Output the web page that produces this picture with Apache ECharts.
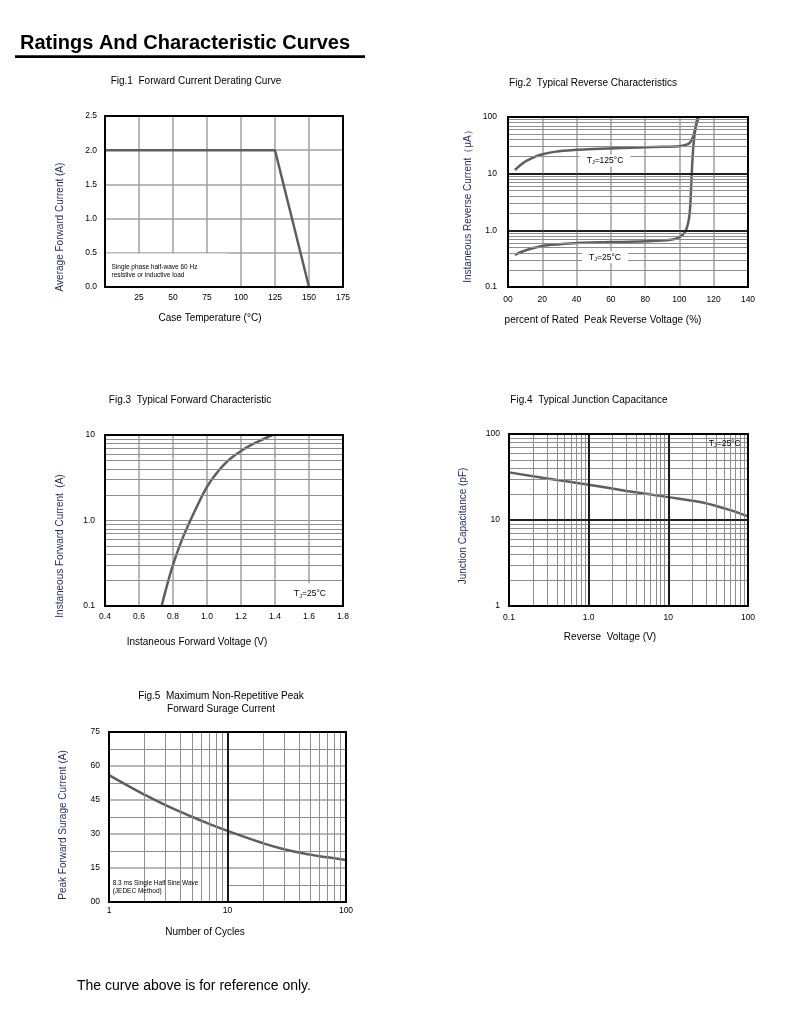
<!DOCTYPE html>
<html>
<head>
<meta charset="utf-8">
<script src="https://cdn.jsdelivr.net/npm/echarts@6/dist/echarts.min.js"></script>
<style>
html, body { margin: 0; padding: 0; background: #fff; }
#main { width: 790px; height: 1012px; }
</style>
</head>
<body>
<div id="main"></div>
<script>
// Fig.1 forward current derating
const fig1Temp = [0, 125, 150];
const fig1Current = [2.0, 2.0, 0.0];

// Fig.2 reverse characteristics
const fig2HotPct = [4, 9, 14, 19, 28, 40, 50, 67, 85, 100, 104, 106, 108, 109.5, 110.5];
const fig2HotCurrent = [11.6, 15.6, 18.8, 21.5, 24.5, 26.3, 27.2, 28.3, 29.5, 30.5, 32.5, 35, 45, 68, 100];
const fig2ColdPct = [4, 10, 20, 30, 40, 60, 80, 95, 100, 103.3, 105.2, 106.2, 107.1, 108.1, 109.5, 111.3];
const fig2ColdCurrent = [0.37, 0.44, 0.53, 0.57, 0.6, 0.62, 0.64, 0.68, 0.76, 0.94, 1.4, 2.4, 9, 30, 66, 100];

// Fig.3 forward characteristic
const fig3Volt = [0.733, 0.77, 0.8, 0.85, 0.9, 0.95, 1.0, 1.05, 1.1, 1.15, 1.2, 1.25, 1.3, 1.385];
const fig3Current = [0.1, 0.19, 0.303, 0.578, 0.98, 1.59, 2.47, 3.44, 4.49, 5.52, 6.49, 7.45, 8.36, 10];

// Fig.4 junction capacitance
const fig4Volt = [0.1, 0.3, 1, 3, 10, 20, 30, 50, 70, 100];
const fig4Cap = [35.8, 30.4, 25.7, 21.8, 18.45, 16.7, 15.6, 13.7, 12.45, 11];

// Fig.5 surge current
const fig5Cycles = [1, 2, 3, 5, 7, 10, 20, 30, 50, 70, 100];
const fig5Surge = [56, 47.3, 42.7, 37.6, 34.5, 31.4, 25.9, 23.3, 20.9, 19.7, 18.5];

const FONT = '"Liberation Sans", Arial, sans-serif';
const NAVY = '#1e2a5e';
const GRAY = '#a0a0a0';
const MINOR = '#8e8e8e';
const MAJOR = '#111';
const CURVE = '#5e5e5e';

const zip = (xs, ys) => xs.map((x, i) => [x, ys[i]]);

// 2..9 steps of every decade inside [lo, hi]
function decadeSteps(lo, hi) {
    const out = [];
    for (let d = lo; d < hi; d *= 10) {
        for (let k = 2; k <= 9; k++) out.push(+(k * d).toPrecision(3));
    }
    return out;
}

const logLabel = v => v < 0.5 ? '0.1' : (v < 5 ? '1.0' : String(Math.round(v)));

function axis(gi, type, min, max, extra) {
    const a = {
        gridIndex: gi,
        type: type,
        min: min,
        max: max,
        axisLine: { show: false },
        axisTick: { show: false },
        axisLabel: { fontSize: 8.5, color: '#000', fontFamily: FONT, margin: 7 },
        splitLine: { show: true, lineStyle: { color: GRAY, width: 1.5 } }
    };
    if (type === 'log') a.logBase = 10;
    return Object.assign(a, extra || {});
}

// minor lines first, then black decade lines on top of them
function gridLines(gi, xs, ys, majorXs, majorYs) {
    const major = { color: MAJOR, width: 1.6, type: 'solid' };
    const items = xs.map(v => ({ xAxis: v }))
        .concat(ys.map(v => ({ yAxis: v })))
        .concat((majorXs || []).map(v => ({ xAxis: v, lineStyle: major })))
        .concat((majorYs || []).map(v => ({ yAxis: v, lineStyle: major })));
    return {
        type: 'line', xAxisIndex: gi, yAxisIndex: gi, data: [], z: 1, silent: true,
        markLine: {
            silent: true, symbol: ['none', 'none'], label: { show: false },
            lineStyle: { color: MINOR, width: 1, type: 'solid' },
            emphasis: { disabled: true },
            data: items
        }
    };
}

function whiteBox(gi, from, to) {
    return {
        type: 'line', xAxisIndex: gi, yAxisIndex: gi, data: [], z: 2, silent: true,
        markArea: {
            silent: true, itemStyle: { color: '#fff' }, label: { show: false },
            data: [[{ coord: from }, { coord: to }]]
        }
    };
}

function curve(gi, data, smooth) {
    return {
        type: 'line', xAxisIndex: gi, yAxisIndex: gi, data: data, z: 3,
        showSymbol: false, smooth: smooth,
        lineStyle: { color: CURVE, width: 2.5 }, silent: true
    };
}

const tjRich = {
    t: { fontSize: 8.5, fontFamily: FONT, color: '#000' },
    s: { fontSize: 5.5, fontFamily: FONT, color: '#000', padding: [4, 0, 0, 0] }
};

function note(gi, points) {
    return {
        type: 'line', xAxisIndex: gi, yAxisIndex: gi, data: [], z: 4, silent: true,
        markPoint: {
            silent: true, symbol: 'rect', symbolSize: 1,
            itemStyle: { color: 'rgba(0,0,0,0)' },
            data: points
        }
    };
}

function tjPoint(coord, temp, bg) {
    return {
        coord: coord,
        label: {
            show: true, position: 'inside',
            formatter: '{t|T}{s|J}{t|=' + temp + '°C}',
            rich: tjRich,
            backgroundColor: bg ? '#fff' : 'transparent',
            padding: [1, 7]
        }
    };
}

function textPoint(coord, text, size) {
    return {
        coord: coord,
        label: {
            show: true, position: 'right', distance: 0,
            formatter: text, fontSize: size, fontFamily: FONT, color: '#000',
            lineHeight: size + 1.5, align: 'left'
        }
    };
}

function txt(x, y, text, size, opts) {
    return Object.assign({
        type: 'text', x: x, y: y,
        style: {
            text: text, font: (opts && opts.bold ? 'bold ' : '') + size + 'px ' + FONT,
            fill: (opts && opts.fill) || '#000', align: (opts && opts.align) || 'center', verticalAlign: 'middle'
        }
    }, opts && opts.rotate ? { rotation: Math.PI / 2 } : {});
}

const gridBase = { show: true, borderColor: '#000', borderWidth: 2, z: 10, backgroundColor: 'transparent' };

const chart = echarts.init(document.getElementById('main'));

chart.setOption({
    backgroundColor: '#fff',
    animation: false,
    grid: [
        Object.assign({ left: 105, top: 116, width: 238, height: 171 }, gridBase),
        Object.assign({ left: 508, top: 117, width: 240, height: 170 }, gridBase),
        Object.assign({ left: 105, top: 435, width: 238, height: 171 }, gridBase),
        Object.assign({ left: 509, top: 434, width: 239, height: 172 }, gridBase),
        Object.assign({ left: 109, top: 732, width: 237, height: 170 }, gridBase)
    ],
    xAxis: [
        axis(0, 'value', 0, 175, { interval: 25, axisLabel: { fontSize: 8.5, color: '#000', fontFamily: FONT, margin: 6, formatter: v => v === 0 ? '' : v } }),
        axis(1, 'value', 0, 140, { interval: 20, axisLabel: { fontSize: 8.5, color: '#000', fontFamily: FONT, margin: 8, formatter: v => v === 0 ? '00' : v } }),
        axis(2, 'value', 0.4, 1.8, { interval: 0.2, axisLabel: { fontSize: 8.5, color: '#000', fontFamily: FONT, margin: 6, formatter: v => v.toFixed(1) } }),
        axis(3, 'log', 0.1, 100, { splitLine: { show: true, lineStyle: { color: MAJOR, width: 1.6 } }, axisLabel: { fontSize: 8.5, color: '#000', fontFamily: FONT, margin: 7, formatter: logLabel } }),
        axis(4, 'log', 1, 100, { splitLine: { show: true, lineStyle: { color: MAJOR, width: 1.6 } }, axisLabel: { fontSize: 8.5, color: '#000', fontFamily: FONT, margin: 4, formatter: v => String(Math.round(v)) } })
    ],
    yAxis: [
        axis(0, 'value', 0, 2.5, { interval: 0.5, axisLabel: { fontSize: 8.5, color: '#000', fontFamily: FONT, margin: 8, formatter: v => v.toFixed(1) } }),
        axis(1, 'log', 0.1, 100, { splitLine: { show: true, lineStyle: { color: MAJOR, width: 1.6 } }, axisLabel: { fontSize: 8.5, color: '#000', fontFamily: FONT, margin: 11, formatter: logLabel } }),
        axis(2, 'log', 0.1, 10, { splitLine: { show: true, lineStyle: { color: MINOR, width: 1.2 } }, axisLabel: { fontSize: 8.5, color: '#000', fontFamily: FONT, margin: 10, formatter: logLabel } }),
        axis(3, 'log', 1, 100, { splitLine: { show: true, lineStyle: { color: MAJOR, width: 1.6 } }, axisLabel: { fontSize: 8.5, color: '#000', fontFamily: FONT, margin: 9, formatter: v => String(Math.round(v)) } }),
        axis(4, 'value', 0, 75, { interval: 15, minorTick: { show: false, splitNumber: 2 }, minorSplitLine: { show: true, lineStyle: { color: MINOR, width: 1 } }, axisLabel: { fontSize: 8.5, color: '#000', fontFamily: FONT, margin: 9, formatter: v => v === 0 ? '00' : v } })
    ],
    series: [
        // Fig.1
        whiteBox(0, [0, 0], [90, 0.49]),
        curve(0, zip(fig1Temp, fig1Current), false),
        note(0, [textPoint([4.4, 0.23], 'Single phase half-wave 60 Hz\nresistive or inductive load', 6.5)]),
        // Fig.2
        gridLines(1, [], decadeSteps(0.1, 100), [], [1, 10]),
        curve(1, zip(fig2HotPct, fig2HotCurrent), 0.3),
        curve(1, zip(fig2ColdPct, fig2ColdCurrent), 0.3),
        note(1, [tjPoint([56.6, 17], '125', true), tjPoint([56.6, 0.336], '25', true)]),
        // Fig.3
        gridLines(2, [], decadeSteps(0.1, 10)),
        whiteBox(2, [1.48, 0.1], [1.8, 0.185]),
        curve(2, zip(fig3Volt, fig3Current), 0.5),
        note(2, [tjPoint([1.606, 0.138], '25', false)]),
        // Fig.4
        gridLines(3, decadeSteps(0.1, 100), decadeSteps(1, 100), [1, 10], [10]),
        whiteBox(3, [25, 65], [100, 100]),
        curve(3, zip(fig4Volt, fig4Cap), 0.5),
        note(3, [tjPoint([51, 78], '25', false)]),
        // Fig.5
        gridLines(4, decadeSteps(1, 100), [], [10], []),
        whiteBox(4, [1, 0], [9.85, 11.5]),
        curve(4, zip(fig5Cycles, fig5Surge), 0.5),
        note(4, [textPoint([1.063, 6.5], '8.3 ms Single Half Sine Wave\n(JEDEC Method)', 6.5)])
    ],
    graphic: [
        txt(20, 43, 'Ratings And Characteristic Curves', 20, { bold: true, align: 'left' }),
        { type: 'rect', shape: { x: 15, y: 55.3, width: 350, height: 2.8 }, style: { fill: '#000' } },

        txt(196, 81.7, 'Fig.1  Forward Current Derating Curve', 10),
        txt(60, 227, 'Average Forward Current (A)', 10, { rotate: true, fill: NAVY }),
        txt(210, 318, 'Case Temperature (°C)', 10),

        txt(593, 83, 'Fig.2  Typical Reverse Characteristics', 10),
        txt(468, 204, 'Instaneous Reverse Current（μA）', 10, { rotate: true, fill: NAVY }),
        txt(603, 320, 'percent of Rated  Peak Reverse Voltage (%)', 10),

        txt(190, 400.7, 'Fig.3  Typical Forward Characteristic', 10),
        txt(60, 546, 'Instaneous Forward Current  (A)', 10, { rotate: true, fill: NAVY }),
        txt(197, 642, 'Instaneous Forward Voltage (V)', 10),

        txt(589, 400.7, 'Fig.4  Typical Junction Capacitance', 10),
        txt(463, 526, 'Junction Capacitance (pF)', 10, { rotate: true, fill: NAVY }),
        txt(610, 637, 'Reverse  Voltage (V)', 10),

        txt(221, 696, 'Fig.5  Maximum Non-Repetitive Peak', 10),
        txt(221, 709, 'Forward Surage Current', 10),
        txt(63, 825, 'Peak Forward Surage Current (A)', 10, { rotate: true, fill: NAVY }),
        txt(205, 932, 'Number of Cycles', 10),

        txt(77, 985.7, 'The curve above is for reference only.', 14, { align: 'left' })
    ]
});
</script>
</body>
</html>
